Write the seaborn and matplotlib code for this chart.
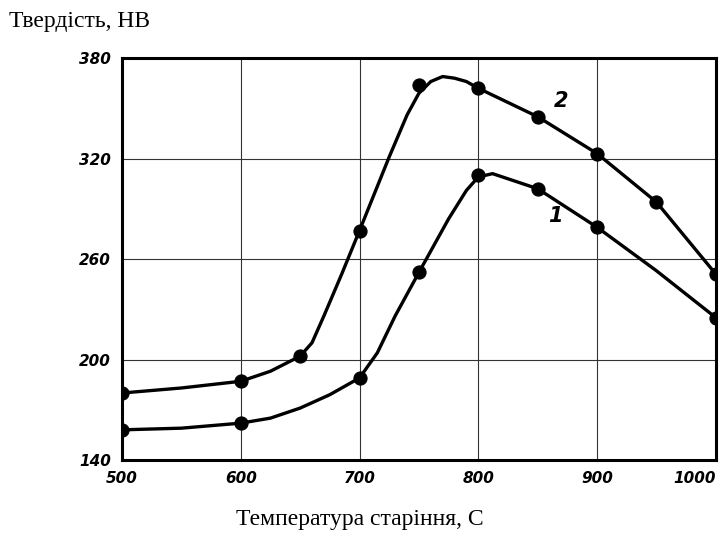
import numpy as np
import pandas as pd
import matplotlib
matplotlib.use("Agg")
import matplotlib.pyplot as plt
import seaborn as sns

temp_1 = [500, 600, 700, 750, 800, 850, 900, 1000]
hb_1 = [158, 162, 189, 252, 310, 302, 279, 225]
temp_2 = [500, 600, 650, 700, 750, 800, 850, 900, 950, 1000]
hb_2 = [180, 187, 202, 277, 364, 362, 345, 323, 294, 251]

# points
curve_t1 = [500, 550, 600, 625, 650, 675, 700, 715, 730, 750, 775, 790, 800,
            812, 850, 900, 950, 1000]
curve_h1 = [158, 159, 162, 165, 171, 179, 189, 204, 226, 252, 284, 301, 309,
            311, 302, 279, 253, 225]
curve_t2 = [500, 550, 600, 625, 650, 660, 670, 685, 700, 725, 740, 750, 760,
            770, 780, 790, 800, 850, 900, 950, 1000]
curve_h2 = [180, 183, 187, 193, 202, 210, 226, 251, 277, 321, 346, 359, 366,
            369, 368, 366, 362, 345, 323, 294, 251]

x_ticks = [500, 600, 700, 800, 900, 1000]
y_ticks = [140, 200, 260, 320, 380]

lines = pd.concat([
    pd.DataFrame({"t": curve_t1, "hb": curve_h1, "curve": "1"}),
    pd.DataFrame({"t": curve_t2, "hb": curve_h2, "curve": "2"}),
])
points = pd.concat([
    pd.DataFrame({"t": temp_1, "hb": hb_1, "curve": "1"}),
    pd.DataFrame({"t": temp_2, "hb": hb_2, "curve": "2"}),
])

sns.set_style("white")
plt.rcParams["text.color"] = "black"
plt.rcParams["xtick.color"] = "black"
plt.rcParams["ytick.color"] = "black"

fig = plt.figure(figsize=(7.26, 5.38), dpi=100)
ax = fig.add_axes([0.168, 0.145, 0.818, 0.747])

for v in x_ticks[1:-1]:
    ax.axvline(v, color="#333333", lw=0.8, zorder=1)
for v in y_ticks[1:-1]:
    ax.axhline(v, color="#333333", lw=0.8, zorder=1)

sns.lineplot(data=lines, x="t", y="hb", units="curve", estimator=None,
             color="black", lw=2.4, sort=False, ax=ax, zorder=3)
sns.scatterplot(data=points, x="t", y="hb", color="black", s=90,
                edgecolor="black", ax=ax, zorder=4, legend=False)

ax.set_xlim(500, 1000)
ax.set_ylim(140, 380)
ax.set_xticks(x_ticks)
ax.set_yticks(y_ticks)
ax.set_xticklabels([str(v) for v in x_ticks], fontstyle="italic",
                   fontweight="bold", fontsize=11)
ax.set_yticklabels([str(v) for v in y_ticks], fontstyle="italic",
                   fontweight="bold", fontsize=11)
ax.get_xticklabels()[-1].set_horizontalalignment("right")
ax.tick_params(axis="both", length=0, pad=8)
ax.set_xlabel("")
ax.set_ylabel("")
for s in ax.spines.values():
    s.set_color("black")
    s.set_linewidth(2.2)

ax.text(864, 351, "2", fontsize=15, fontstyle="italic", fontweight="bold")
ax.text(859, 282, "1", fontsize=15, fontstyle="italic", fontweight="bold")

fig.text(0.012, 0.95, "Твердість, НВ", family="Liberation Serif", fontsize=17)
fig.text(0.495, 0.025, "Температура старіння, С", family="Liberation Serif",
         fontsize=17, ha="center")

fig.savefig("out.png", dpi=100)
